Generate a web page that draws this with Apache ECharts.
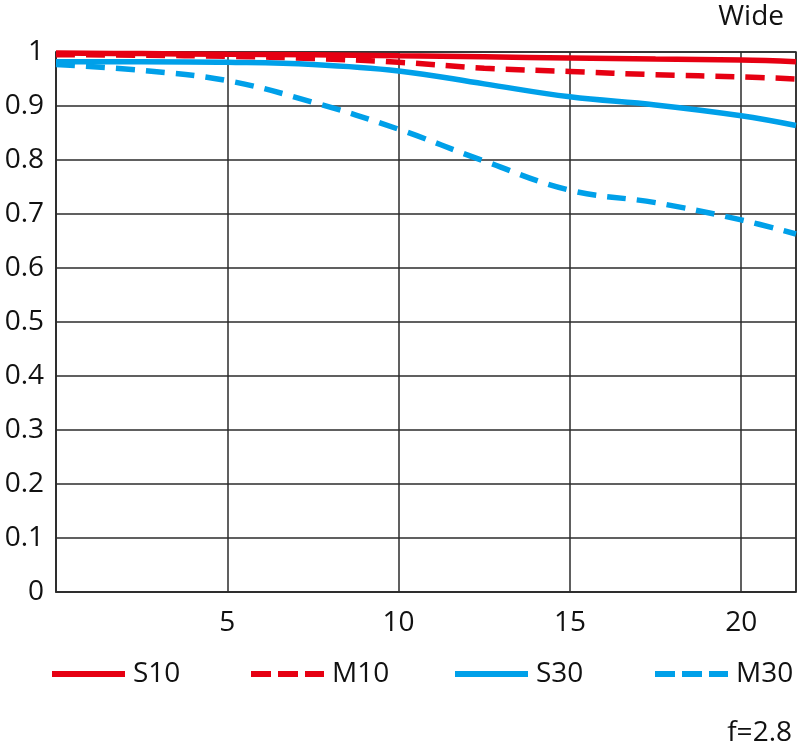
<!DOCTYPE html>
<html>
<head>
<meta charset="utf-8">
<title>MTF Wide</title>
<script src="https://cdn.jsdelivr.net/npm/echarts@6/dist/echarts.min.js"></script>
<style>
  html, body { margin: 0; padding: 0; background: #fff; }
  #chart { width: 797px; height: 751px; }
</style>
</head>
<body>
<div id="chart"></div>
<script>
// image height (mm) where the values were read
const xValues = [0, 2.5, 5, 7.5, 10, 12.5, 15, 17.5, 20, 21.6];

// contrast values
const s10 = [0.998, 0.997, 0.996, 0.995, 0.993, 0.991, 0.989, 0.987, 0.985, 0.982];
const m10 = [0.995, 0.994, 0.992, 0.988, 0.981, 0.970, 0.964, 0.958, 0.954, 0.950];
const s30 = [0.982, 0.982, 0.981, 0.977, 0.965, 0.941, 0.917, 0.902, 0.882, 0.864];
const m30 = [0.977, 0.966, 0.947, 0.907, 0.857, 0.798, 0.744, 0.721, 0.689, 0.663];

const seriesNames = ['S10', 'M10', 'S30', 'M30'];
const xTickLabels = [5, 10, 15, 20];

const RED = '#e60012';
const BLUE = '#00a0e9';
const GRID = '#2b2b2b';
const FONT = 'Open Sans';
const DASH = [19, 11];

const pairs = (ys) => xValues.map((x, i) => [x, ys[i]]);

function lineSeries(name, ys, color, dashed) {
    return {
        name: name,
        type: 'line',
        data: pairs(ys),
        smooth: 0.4,
        symbol: 'none',
        lineStyle: { color: color, width: 5.5, type: dashed ? DASH : 'solid' },
        itemStyle: { color: color },
        emphasis: { disabled: true }
    };
}

// one legend block per item so each sits where the original has it
function legendAt(name, left, dashed) {
    return {
        data: [name],
        left: left,
        top: 660,
        itemWidth: 73,
        itemHeight: 10,
        padding: 0,
        itemStyle: { opacity: 0 },   // hide the marker dot, keep the line
        lineStyle: { width: 6, type: dashed ? [20, 7] : 'solid' },
        textStyle: { fontFamily: FONT, fontSize: 28, color: '#111', padding: [0, 0, 0, 3] },
        selectedMode: false
    };
}

const chart = echarts.init(document.getElementById('chart'));

chart.setOption({
    animation: false,
    title: [
        {
            text: 'Wide', right: 13, top: 3, padding: 0,
            textStyle: { fontFamily: FONT, fontSize: 28, fontWeight: 'normal', color: '#111' }
        },
        {
            text: 'f=2.8', right: 5, top: 719, padding: 0,
            textStyle: { fontFamily: FONT, fontSize: 28, fontWeight: 'normal', color: '#111' }
        }
    ],
    legend: [
        legendAt('S10', 49, false),
        legendAt('M10', 248, true),
        legendAt('S30', 452, false),
        legendAt('M30', 652, true)
    ],
    grid: {
        left: 56, right: 1, top: 52, bottom: 159,
        show: true, borderColor: GRID, borderWidth: 1.5
    },
    xAxis: {
        type: 'value',
        min: 0, max: 21.6, interval: 5,
        axisLine: { show: true, lineStyle: { color: GRID, width: 1.5 } },
        axisTick: { show: false },
        splitLine: { show: true, lineStyle: { color: GRID, width: 1.5 } },
        axisLabel: {
            margin: 17,
            fontFamily: FONT, fontSize: 28, color: '#111',
            showMaxLabel: false,
            formatter: (v) => xTickLabels.includes(v) ? String(v) : ''
        }
    },
    yAxis: {
        type: 'value',
        min: 0, max: 1, interval: 0.1,
        axisLine: { show: true, lineStyle: { color: GRID, width: 1.5 } },
        axisTick: { show: false },
        splitLine: { show: true, lineStyle: { color: GRID, width: 1.5 } },
        axisLabel: {
            margin: 12,
            fontFamily: FONT, fontSize: 28, color: '#111',
            formatter: (v) => String(Math.round(v * 10) / 10)
        }
    },
    series: [
        lineSeries(seriesNames[3], m30, BLUE, true),
        lineSeries(seriesNames[2], s30, BLUE, false),
        lineSeries(seriesNames[1], m10, RED, true),
        lineSeries(seriesNames[0], s10, RED, false)
    ]
});

window.addEventListener('resize', () => chart.resize());
</script>
</body>
</html>
